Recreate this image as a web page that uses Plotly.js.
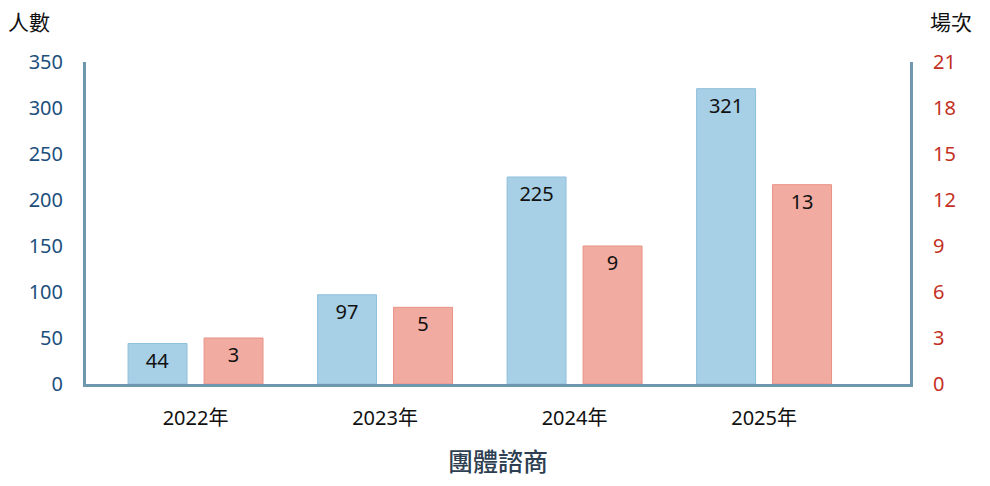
<!DOCTYPE html>
<html>
<head>
<meta charset="utf-8">
<script src="https://cdn.plot.ly/plotly-3.0.1.min.js"></script>
<style>
  html, body { margin: 0; padding: 0; background: #fff; }
  #chart { width: 990px; height: 486px; }
</style>
</head>
<body>
<div id="chart"></div>
<script>
// group counselling: people vs sessions per year
const years = ['2022年', '2023年', '2024年', '2025年'];
const people = [44, 97, 225, 321];
const sessions = [3, 5, 9, 13];
const peopleTicks = [0, 50, 100, 150, 200, 250, 300, 350];
const sessionTicks = [0, 3, 6, 9, 12, 15, 18, 21];

const FONT = '"Noto Sans", "Noto Sans CJK TC", sans-serif';

const barText = { family: FONT, size: 20, color: '#111' };

const traces = [
  {
    type: 'bar',
    name: '人數',
    x: years,
    y: people,
    yaxis: 'y',
    width: 0.311,
    offset: -0.356,
    marker: { color: '#a7cfe5', line: { color: '#8fbfdc', width: 1 } },
    text: people.map(String),
    textposition: 'inside',
    insidetextanchor: 'end',
    constraintext: 'none',
    textfont: barText,
    hoverinfo: 'x+y'
  },
  {
    type: 'bar',
    name: '場次',
    x: years,
    y: sessions,
    yaxis: 'y2',
    width: 0.311,
    offset: 0.045,
    marker: { color: '#f1aba1', line: { color: '#e99285', width: 1 } },
    text: sessions.map(String),
    textposition: 'inside',
    insidetextanchor: 'end',
    constraintext: 'none',
    textfont: barText,
    hoverinfo: 'x+y'
  }
];

const axisLine = '#6f97ad';

const layout = {
  width: 990,
  height: 486,
  margin: { l: 86, r: 80, t: 62, b: 102 },
  paper_bgcolor: '#fff',
  plot_bgcolor: '#fff',
  showlegend: false,
  font: { family: FONT, size: 20, color: '#111' },
  xaxis: {
    type: 'category',
    range: [-0.578, 3.77],
    showline: true,
    linecolor: axisLine,
    linewidth: 3,
    ticks: '',
    showgrid: false,
    zeroline: false,
    ticklabelstandoff: 14,
    tickfont: { family: FONT, size: 20, color: '#111' },
    title: { text: '團體諮商', font: { family: FONT, size: 25, color: '#2e3f52', weight: 500 }, standoff: 24 }
  },
  yaxis: {
    range: [0, 350],
    tickvals: peopleTicks,
    showline: true,
    linecolor: axisLine,
    linewidth: 3,
    showgrid: false,
    zeroline: false,
    ticks: '',
    ticklabelstandoff: 16,
    tickfont: { family: FONT, size: 20, color: '#1d4f7c' }
  },
  yaxis2: {
    overlaying: 'y',
    side: 'right',
    range: [0, 21],
    tickvals: sessionTicks,
    showline: true,
    linecolor: axisLine,
    linewidth: 3,
    showgrid: false,
    zeroline: false,
    ticks: '',
    ticklabelstandoff: 16,
    tickfont: { family: FONT, size: 20, color: '#c4301f' }
  },
  annotations: [
    { text: '人數', xref: 'paper', yref: 'paper', x: -0.097, y: 1.075, xanchor: 'left', yanchor: 'bottom',
      showarrow: false, font: { family: FONT, size: 21, color: '#111' } },
    { text: '場次', xref: 'paper', yref: 'paper', x: 1.022, y: 1.075, xanchor: 'left', yanchor: 'bottom',
      showarrow: false, font: { family: FONT, size: 21, color: '#111' } }
  ]
};

Plotly.newPlot('chart', traces, layout, { displayModeBar: false, staticPlot: true });
</script>
</body>
</html>
